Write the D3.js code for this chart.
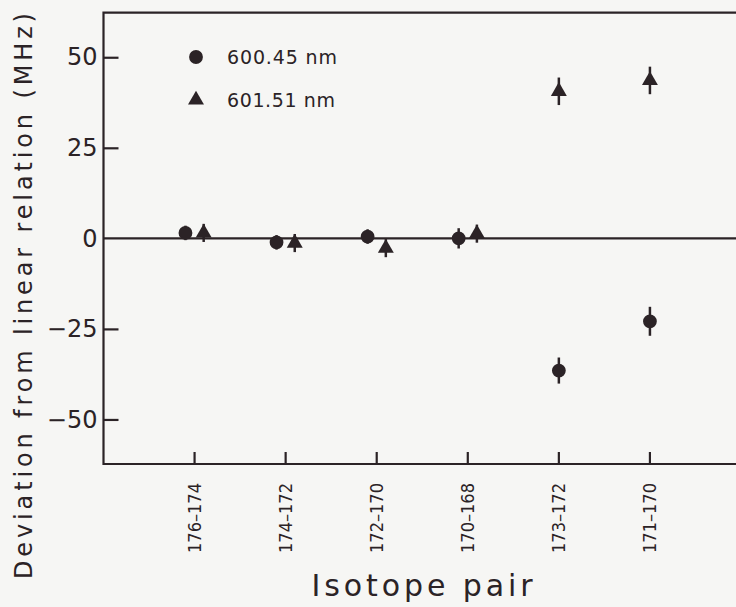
<!DOCTYPE html>
<html>
<head>
<meta charset="utf-8">
<title>Deviation from linear relation</title>
<style>
  body { margin: 0; background: #f6f6f4; }
  svg { display: block; }
  text { fill: #2b2326; font-family: "DejaVu Sans", sans-serif; }
</style>
<script src="https://d3js.org/d3.v7.min.js"></script>
</head>
<body>
<svg width="736" height="607"></svg>
<script>
// isotope pairs and deviations (MHz)
var pairs = ["176–174", "174–172", "172–170", "170–168", "173–172", "171–170"];
var dev600 = [1.5, -1.1, 0.5, 0.0, -36.5, -22.9];
var err600 = [2.0, 2.0, 2.0, 2.8, 3.6, 4.0];
var dev601 = [1.5, -1.3, -2.7, 1.3, 40.6, 43.6];
var err601 = [2.5, 2.5, 2.5, 2.5, 3.8, 3.8];
var yTicks = [-50, -25, 0, 25, 50];

var ink = "#2b2326";
var svg = d3.select("svg");

var x = d3.scaleLinear().domain([0, 7]).range([103.5, 741]);
var y = d3.scaleLinear().domain([-62.3, 62.3]).range([464, 12.7]);

// frame (right side runs off the page)
var g = svg.append("g").attr("stroke", ink).attr("stroke-width", 2.2).attr("fill", "none");
g.append("path").attr("d", "M" + 745 + "," + y(62.3) + "H" + x(0) + "V" + y(-62.3) + "H" + 745);
g.append("line").attr("x1", x(0)).attr("x2", 745).attr("y1", y(0)).attr("y2", y(0));

// y axis ticks point inward
var yAxis = d3.axisLeft(y).tickValues(yTicks).tickSize(-15).tickPadding(20)
  .tickFormat(function (d) { return d === 0 ? "0" : d3.format("d")(d).replace("-", "−"); });
var ya = svg.append("g").attr("transform", "translate(" + x(0) + ",0)").call(yAxis);
ya.select(".domain").remove();
ya.selectAll("line").attr("stroke", ink).attr("stroke-width", 2.2);
ya.selectAll("text").attr("font-size", 24).attr("fill", ink)
  .attr("font-family", "DejaVu Sans, sans-serif").attr("dx", 14);
ya.selectAll(".tick").filter(function (d) { return d === 0; }).select("line").remove();

// x axis: category ticks
var xa = svg.append("g");
pairs.forEach(function (p, i) {
  var xp = x(i + 1);
  xa.append("line").attr("x1", xp).attr("x2", xp).attr("y1", y(-62.3)).attr("y2", y(-62.3) - 12)
    .attr("stroke", ink).attr("stroke-width", 2.2);
  xa.append("text").attr("transform", "translate(" + (xp + 6.5) + ",483) rotate(-90)")
    .attr("text-anchor", "end").attr("font-size", 17.5).attr("textLength", 70)
    .attr("lengthAdjust", "spacingAndGlyphs").text(p);
});

// axis titles
svg.append("text").attr("x", 422).attr("y", 596).attr("text-anchor", "middle")
  .attr("font-size", 30).attr("textLength", 221).attr("lengthAdjust", "spacing")
  .text("Isotope pair");
svg.append("text").attr("transform", "translate(32,296) rotate(-90)").attr("text-anchor", "middle")
  .attr("font-size", 24).attr("textLength", 566).attr("lengthAdjust", "spacing")
  .text("Deviation from linear relation (MHz)");

// points with error bars
var circle = d3.symbol().type(d3.symbolCircle).size(150);
var tri = d3.symbol().type(d3.symbolTriangle).size(110);

function drawSeries(vals, errs, sym, side) {
  var s = svg.append("g");
  vals.forEach(function (v, i) {
    // side-by-side only where the two lines overlap
    var dodge = Math.abs(dev600[i] - dev601[i]) < 10 ? side * 0.1 : 0;
    var xp = x(i + 1 + dodge);
    s.append("line").attr("x1", xp).attr("x2", xp)
      .attr("y1", y(v - errs[i])).attr("y2", y(v + errs[i]))
      .attr("stroke", ink).attr("stroke-width", 2.5);
    s.append("path").attr("d", sym).attr("fill", ink)
      .attr("transform", "translate(" + xp + "," + y(v) + ")");
  });
}
drawSeries(dev600, err600, circle(), -1);
drawSeries(dev601, err601, tri(), 1);

// legend
var lg = svg.append("g");
lg.append("path").attr("d", circle()).attr("fill", ink).attr("transform", "translate(196,57)");
lg.append("path").attr("d", tri()).attr("fill", ink).attr("transform", "translate(196,100)");
lg.append("text").attr("x", 227).attr("y", 64).attr("font-size", 19)
  .attr("textLength", 110).attr("lengthAdjust", "spacing").text("600.45 nm");
lg.append("text").attr("x", 227).attr("y", 107).attr("font-size", 19)
  .attr("textLength", 108).attr("lengthAdjust", "spacing").text("601.51 nm");
</script>
</body>
</html>
